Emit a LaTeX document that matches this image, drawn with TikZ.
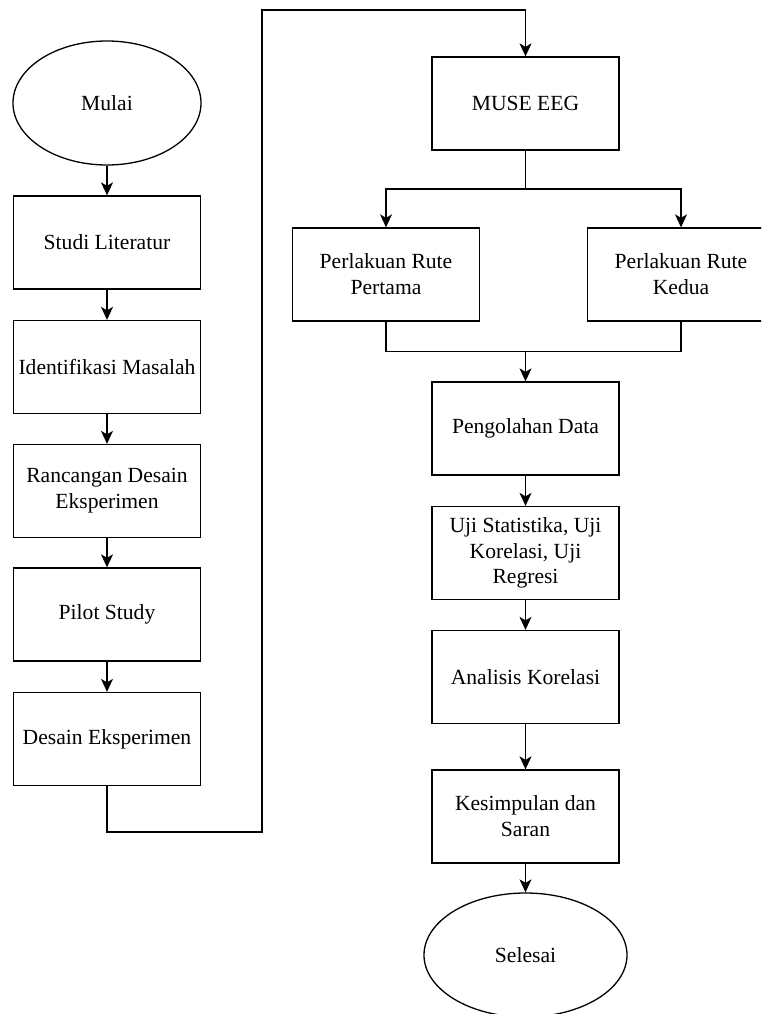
\documentclass[tikz,border=0pt]{standalone}
\usepackage{fontspec}
\setmainfont{Liberation Serif}
\usetikzlibrary{arrows.meta,shapes.geometric}
\begin{document}
\begin{tikzpicture}[x=1pt,y=-1pt,
  line width=1.3pt,
  every node/.style={font=\fontsize{21.6}{25.8}\selectfont, align=center, line width=1.3pt},
  procbox/.style={draw, rectangle, minimum width=187pt, minimum height=93pt, inner sep=2pt},
  termnode/.style={draw, ellipse, inner sep=0pt},
  arr/.style={-{Stealth[length=13pt,width=12pt,inset=3.5pt]}}]
\clip (0,0) rectangle (761,1014);
% left column
\node[termnode, minimum width=188pt, minimum height=124pt] (mulai) at (107,103) {Mulai};
\node[procbox] (studi) at (107,242.5) {Studi Literatur};
\node[procbox] (ident) at (107,367) {Identifikasi Masalah};
\node[procbox] (ranc) at (107,491) {Rancangan Desain\\Eksperimen};
\node[procbox] (pilot) at (107,614.5) {Pilot Study};
\node[procbox] (desain) at (107,739) {Desain Eksperimen};
% right column
\node[procbox] (muse) at (525.5,103.5) {MUSE EEG};
\node[procbox] (pert) at (386,274.5) {Perlakuan Rute\\Pertama};
\node[procbox] (kedua) at (681,274.5) {Perlakuan Rute\\Kedua};
\node[procbox] (peng) at (525.5,428.5) {Pengolahan Data};
\node[procbox] (uji) at (525.5,553) {Uji Statistika, Uji\\Korelasi, Uji\\Regresi};
\node[procbox] (anal) at (525.5,677) {Analisis Korelasi};
\node[procbox] (kesim) at (525.5,816.5) {Kesimpulan dan\\Saran};
\node[termnode, minimum width=203pt, minimum height=124pt] (selesai) at (525.5,955) {Selesai};
% connectors left
\draw[arr] (mulai) -- (studi);
\draw[arr] (studi) -- (ident);
\draw[arr] (ident) -- (ranc);
\draw[arr] (ranc) -- (pilot);
\draw[arr] (pilot) -- (desain);
\coordinate (c1) at (107,832);
\coordinate (c2) at (262,10);
\draw[arr] (desain.south) -- (c1) -- (c1 -| c2) -- (c2) -| (muse.north);
% split
\coordinate (s) at (525.5,189);
\draw (muse.south) -- (s);
\draw[arr] (s) -| (pert.north);
\draw[arr] (s) -| (kedua.north);
% merge
\coordinate (m) at (525.5,351.7);
\draw (pert.south) |- (m);
\draw (kedua.south) |- (m);
\draw[arr] (m) -- (peng.north);
\draw[arr] (peng) -- (uji);
\draw[arr] (uji) -- (anal);
\draw[arr] (anal) -- (kesim);
\draw[arr] (kesim) -- (selesai);
\end{tikzpicture}
\end{document}
